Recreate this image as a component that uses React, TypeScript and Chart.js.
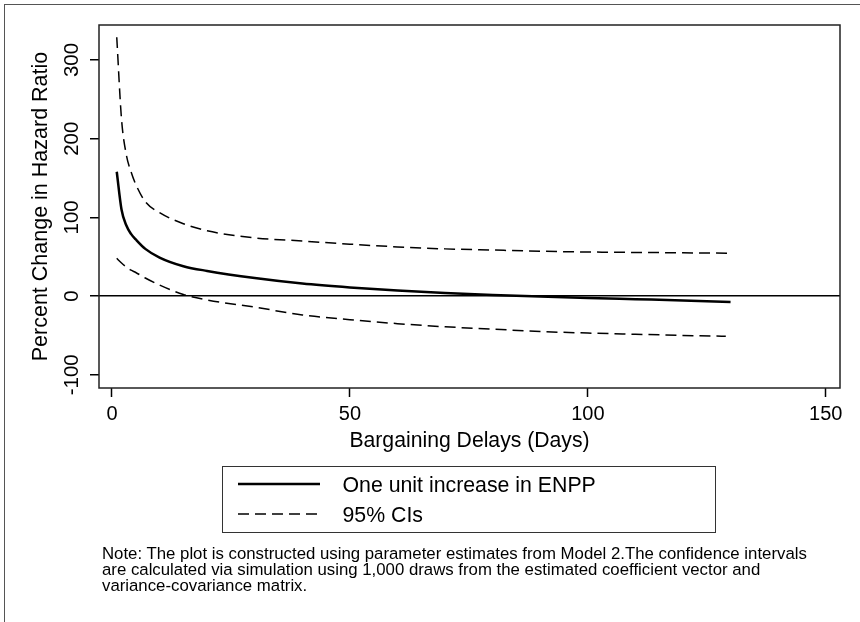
import React, { useEffect, useRef } from "react";
import { Chart, registerables } from "chart.js";

Chart.register(...registerables);

// ---- data ----
const days = [1, 2, 3, 4, 5, 7, 10, 15, 20, 30, 40, 50, 60, 70, 80, 90, 100, 110, 120, 130];
const effect = [158, 110, 90, 79, 72, 60, 49, 38, 32, 23, 16, 11, 7, 4, 1.5, -0.5, -2.5, -4, -5.5, -7.5];
const upperCI = [329, 225, 180, 158, 142, 120, 106, 92, 83, 74, 70, 66, 62.5, 60, 58.5, 57, 56, 55.5, 55, 54.5];
const lowerDays = [1, 2, 3, 4, 5, 7, 10, 15, 20, 30, 40, 50, 60, 70, 80, 90, 100, 110, 120, 129];
const lowerCI = [48, 42, 37, 33, 30, 23, 14, 2, -5, -14, -24, -30, -35, -39, -42, -45, -47, -48.5, -50, -51];
const xTicks = [0, 50, 100, 150];
const yTicks = [-100, 0, 100, 200, 300];
const xTitle = "Bargaining Delays (Days)";
const yTitle = "Percent Change in Hazard Ratio";
const legendLabels = ["One unit increase in ENPP", "95% CIs"];
const noteLines = [
  "Note: The plot is constructed using parameter estimates from Model 2.The confidence intervals",
  "are calculated via simulation using 1,000 draws from the estimated coefficient vector and",
  "variance-covariance matrix.",
];

const FAMILY = "'Liberation Sans', Arial, Helvetica, sans-serif";

export default function App() {
  const ref = useRef<HTMLCanvasElement>(null);

  useEffect(() => {
    if (!ref.current) return;
    const plotBox = {
      id: "plotBox",
      afterDraw(chart: any) {
        const { ctx, chartArea: a } = chart;
        ctx.save();
        ctx.strokeStyle = "#222";
        ctx.lineWidth = 1.5;
        ctx.strokeRect(a.left, a.top, a.right - a.left, a.bottom - a.top);
        ctx.restore();
      },
    };
    const chart = new Chart(ref.current, {
      type: "line",
      data: {
        datasets: [
          {
            label: legendLabels[0],
            data: days.map((d, i) => ({ x: d, y: effect[i] })),
            borderColor: "#000",
            borderWidth: 2.5,
            pointRadius: 0,
            cubicInterpolationMode: "monotone",
          },
          {
            label: legendLabels[1],
            data: days.map((d, i) => ({ x: d, y: upperCI[i] })),
            borderColor: "#000",
            borderWidth: 1.5,
            borderDash: [11, 6],
            pointRadius: 0,
            cubicInterpolationMode: "monotone",
          },
          {
            label: legendLabels[1] + " (lower)",
            data: lowerDays.map((d, i) => ({ x: d, y: lowerCI[i] })),
            borderColor: "#000",
            borderWidth: 1.5,
            borderDash: [11, 6],
            pointRadius: 0,
            cubicInterpolationMode: "monotone",
          },
        ],
      },
      options: {
        responsive: false,
        animation: false,
        layout: { padding: { left: 28, top: 25, right: 20, bottom: 168 } },
        plugins: { legend: { display: false }, tooltip: { enabled: false } },
        scales: {
          x: {
            type: "linear",
            min: -2.73,
            max: 153,
            afterBuildTicks: (s: any) => {
              s.ticks = xTicks.map((v) => ({ value: v }));
            },
            afterFit: (s: any) => {
              s.height = 66;
            },
            grid: {
              drawOnChartArea: false,
              drawTicks: true,
              tickLength: 9,
              tickColor: "#000",
              tickWidth: 1.5,
            },
            border: { display: false },
            ticks: {
              font: { family: FAMILY, size: 20 },
              color: "#000",
              padding: 5,
              maxRotation: 0,
              autoSkip: false,
            },
            title: {
              display: true,
              text: xTitle,
              font: { family: FAMILY, size: 21.2 },
              color: "#000",
              padding: 0,
            },
          },
          y: {
            type: "linear",
            min: -116.8,
            max: 344.5,
            afterBuildTicks: (s: any) => {
              s.ticks = yTicks.map((v) => ({ value: v }));
            },
            afterFit: (s: any) => {
              s.width = 71;
            },
            grid: {
              color: (c: any) => (c.tick && c.tick.value === 0 ? "#000" : "rgba(0,0,0,0)"),
              lineWidth: 1.5,
              drawTicks: true,
              tickLength: 9,
              tickColor: "#000",
              tickWidth: 1.5,
            },
            border: { display: false },
            ticks: {
              font: { family: FAMILY, size: 20.5 },
              color: "#000",
              minRotation: 90,
              maxRotation: 90,
              crossAlign: "center",
              padding: -3,
              autoSkip: false,
            },
            title: {
              display: true,
              text: yTitle,
              font: { family: FAMILY, size: 21.5 },
              color: "#000",
              padding: 0,
            },
          },
        },
      },
      plugins: [plotBox],
    } as any);
    return () => chart.destroy();
  }, []);

  return (
    <div
      style={{
        position: "absolute",
        left: 0,
        top: 0,
        width: 860,
        height: 622,
        background: "#fff",
        overflow: "hidden",
        fontFamily: FAMILY,
        color: "#000",
      }}
    >
      <div
        style={{
          position: "absolute",
          left: 4,
          top: 4,
          width: 900,
          height: 700,
          borderLeft: "1.5px solid #555",
          borderTop: "1.5px solid #555",
        }}
      />
      <canvas ref={ref} width={860} height={622} style={{ position: "absolute", left: 0, top: 0 }} />
      <div
        style={{
          position: "absolute",
          left: 222,
          top: 466,
          width: 494,
          height: 67,
          boxSizing: "border-box",
          border: "1.5px solid #333",
        }}
      >
        <svg width={494} height={67} style={{ position: "absolute", left: -1.5, top: -1.5 }}>
          <line x1={16} y1={18} x2={98} y2={18} stroke="#000" strokeWidth={2.5} />
          <line x1={16} y1={48} x2={98} y2={48} stroke="#000" strokeWidth={1.5} strokeDasharray="11 6" />
        </svg>
        <div style={{ position: "absolute", left: 119.5, top: 5.5, fontSize: 21.3, lineHeight: "25px", whiteSpace: "nowrap" }}>
          {legendLabels[0]}
        </div>
        <div style={{ position: "absolute", left: 119.5, top: 36, fontSize: 21.3, lineHeight: "25px", whiteSpace: "nowrap" }}>
          {legendLabels[1]}
        </div>
      </div>
      <div
        style={{
          position: "absolute",
          left: 102,
          top: 546,
          fontSize: 16.8,
          lineHeight: "16px",
          whiteSpace: "pre",
        }}
      >
        {noteLines.join("\n")}
      </div>
    </div>
  );
}
